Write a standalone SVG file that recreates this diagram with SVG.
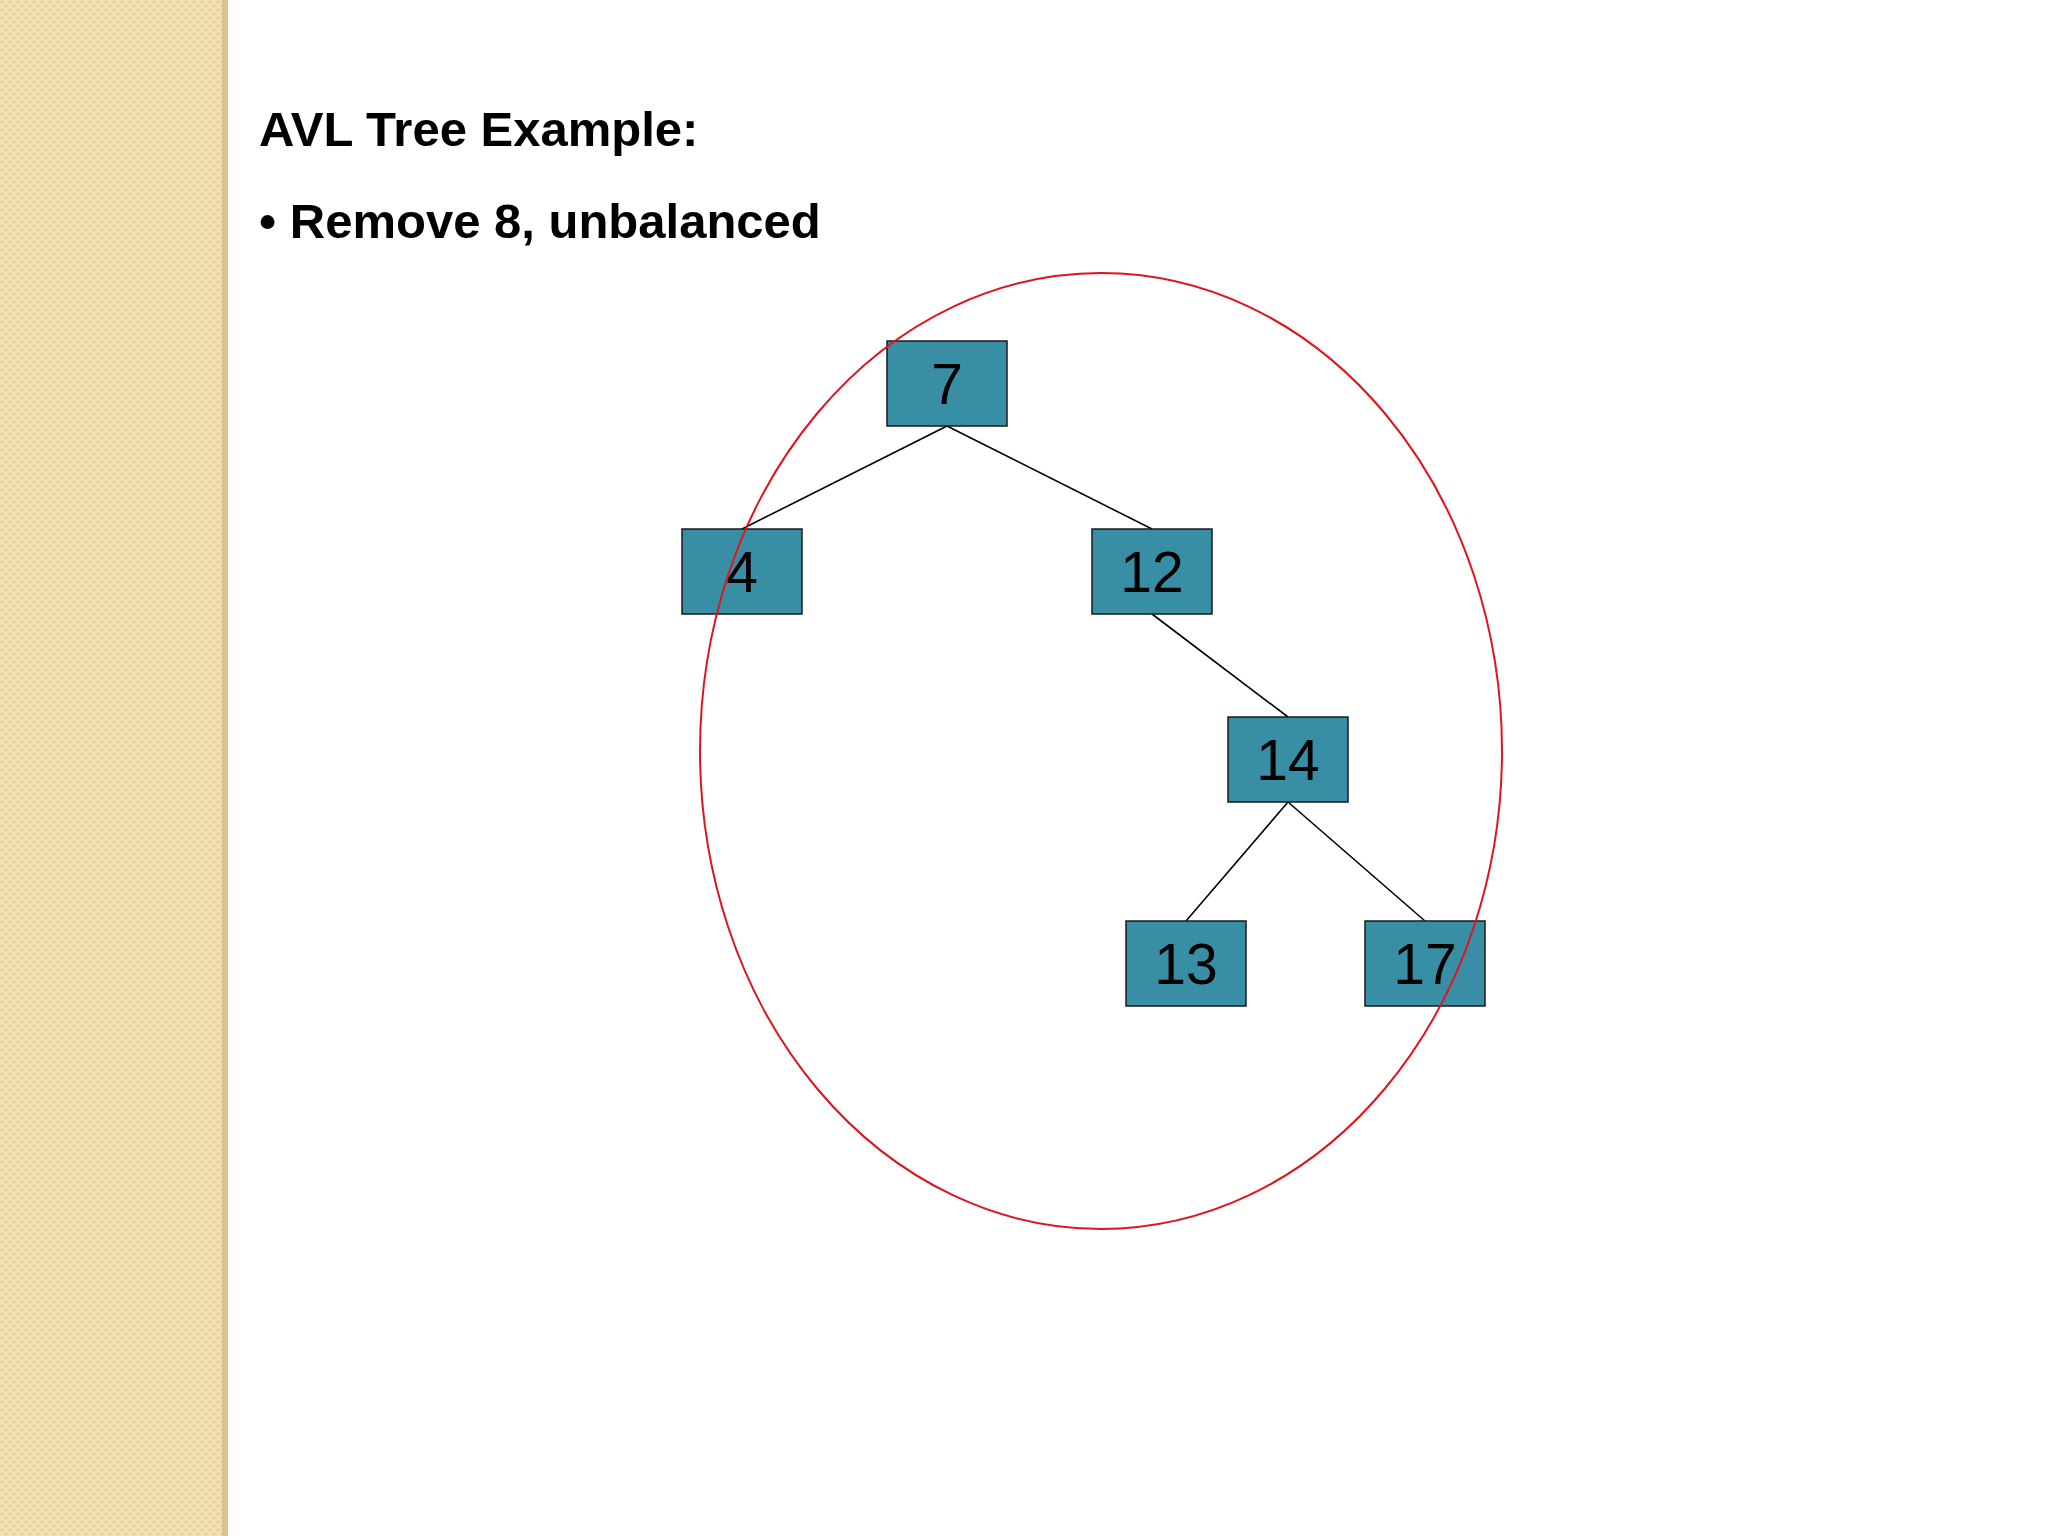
<svg xmlns="http://www.w3.org/2000/svg" width="2048" height="1536" viewBox="0 0 2048 1536">
<defs>
<pattern id="tex" width="8" height="8" patternUnits="userSpaceOnUse">
<rect width="8" height="8" fill="#f1e0b2"/>
<circle cx="2" cy="2" r="1.6" fill="#e6d09a"/>
<circle cx="6" cy="6" r="1.6" fill="#e9d5a2"/>
</pattern>
<style>
.n{fill:#388fa5;stroke:#1a1a1a;stroke-width:1.5}
.t{font-family:"Liberation Sans",Arial,sans-serif;font-size:57px;fill:#000;text-anchor:middle}
.h{font-family:"Liberation Sans",Arial,sans-serif;font-size:49px;font-weight:bold;fill:#000}
</style>
</defs>
<rect width="2048" height="1536" fill="#fff"/>
<rect width="222" height="1536" fill="url(#tex)"/>
<rect x="222" width="6" height="1536" fill="#d9c490"/>
<text class="h" x="259" y="146">AVL Tree Example:</text>
<text class="h" x="259" y="238">• Remove 8, unbalanced</text>
<g id="connectors" stroke="#000" stroke-width="1.6">
<line x1="947" y1="426" x2="742" y2="529"/>
<line x1="947" y1="426" x2="1152" y2="529"/>
<line x1="1152" y1="614" x2="1288" y2="717"/>
<line x1="1288" y1="802" x2="1186" y2="921"/>
<line x1="1288" y1="802" x2="1425" y2="921"/>
</g>
<g id="n7"><rect class="n" x="887" y="341" width="120" height="85"/><text class="t" x="947" y="404">7</text></g>
<g id="n4"><rect class="n" x="682" y="529" width="120" height="85"/><text class="t" x="742" y="592">4</text></g>
<g id="n12"><rect class="n" x="1092" y="529" width="120" height="85"/><text class="t" x="1152" y="592">12</text></g>
<g id="n14"><rect class="n" x="1228" y="717" width="120" height="85"/><text class="t" x="1288" y="780">14</text></g>
<g id="n13"><rect class="n" x="1126" y="921" width="120" height="85"/><text class="t" x="1186" y="984">13</text></g>
<g id="n17"><rect class="n" x="1365" y="921" width="120" height="85"/><text class="t" x="1425" y="984">17</text></g>
<ellipse id="highlight" cx="1101" cy="751" rx="401" ry="478" fill="none" stroke="#e0141c" stroke-width="2"/>
</svg>
